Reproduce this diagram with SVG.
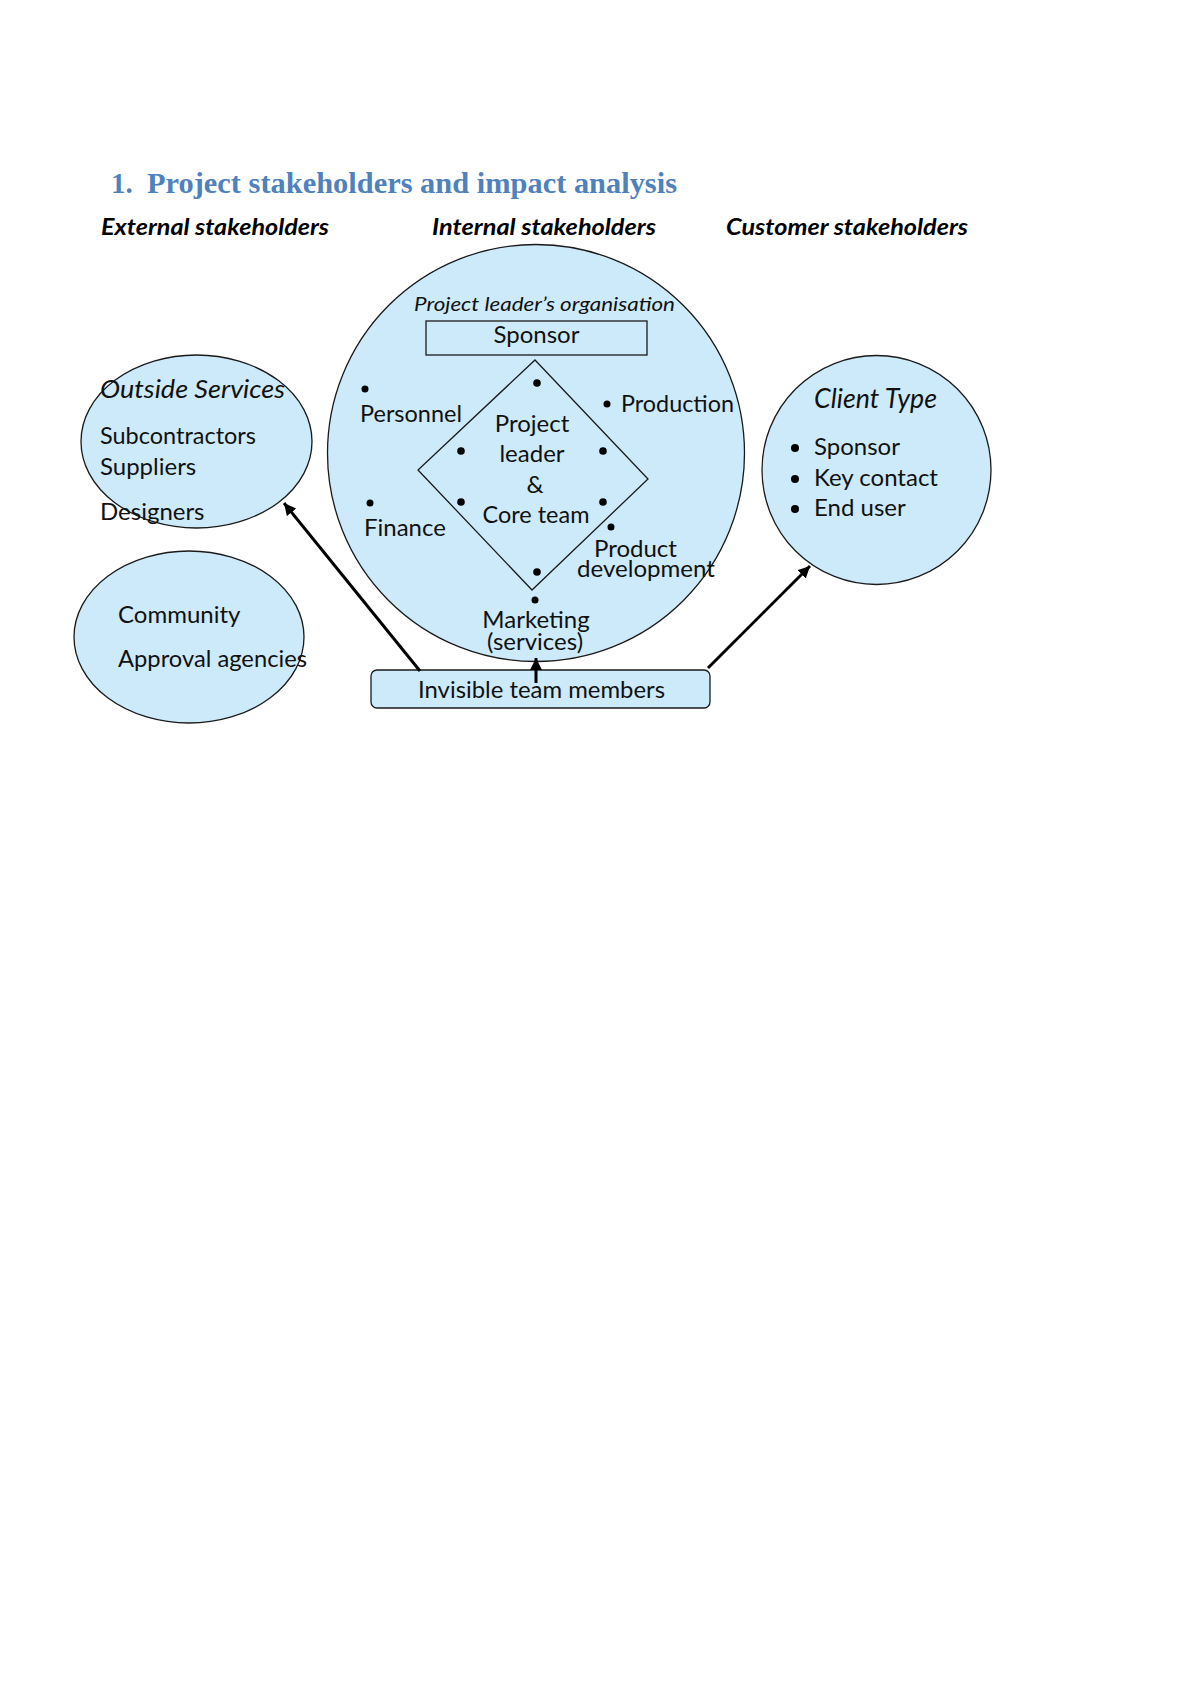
<svg xmlns="http://www.w3.org/2000/svg" width="1200" height="1697" viewBox="0 0 1200 1697">
<style>
.bg{fill:#ffffff}
.shape{fill:#CDEAFB;stroke:#1a1a1a;stroke-width:1.3}
.box{fill:none;stroke:#1a1a1a;stroke-width:1.3}
.t{font-family:Lato,"Liberation Sans",sans-serif;font-size:24px;fill:#111111}
.it{font-style:italic}
.hd{font-family:Lato,"Liberation Sans",sans-serif;font-size:23px;font-weight:bold;font-style:italic;fill:#000000}
.title{font-family:"Liberation Serif","DejaVu Serif",serif;font-size:29px;font-weight:bold;fill:#4F81BD}
.dot{fill:#000000}
.conn{stroke:#000000;stroke-width:3;fill:none}
</style>
<defs>
<marker id="arr" markerUnits="userSpaceOnUse" markerWidth="14" markerHeight="12" refX="12" refY="6" orient="auto">
<path d="M0,0 L12,6 L0,12 Z" fill="#000000"/>
</marker>
</defs>
<rect class="bg" x="0" y="0" width="1200" height="1697"/>

<g id="title">
<text class="title" x="111" y="193">1.</text>
<text class="title" x="147" y="193" textLength="530" lengthAdjust="spacingAndGlyphs">Project stakeholders and impact analysis</text>
</g>

<g id="headers">
<text class="hd" x="101" y="235" textLength="228" lengthAdjust="spacingAndGlyphs">External stakeholders</text>
<text class="hd" x="432" y="235" textLength="224" lengthAdjust="spacingAndGlyphs">Internal stakeholders</text>
<text class="hd" x="726" y="235" textLength="242" lengthAdjust="spacingAndGlyphs">Customer stakeholders</text>
</g>

<g id="outside-services">
<ellipse class="shape" cx="196.5" cy="441.5" rx="115.5" ry="86.5"/>
<text class="t it" x="100" y="398" style="font-size:26px" textLength="185" lengthAdjust="spacingAndGlyphs">Outside Services</text>
<text class="t" x="100" y="444" textLength="156" lengthAdjust="spacingAndGlyphs">Subcontractors</text>
<text class="t" x="100" y="475">Suppliers</text>
<text class="t" x="100" y="520">Designers</text>
</g>

<g id="community">
<ellipse class="shape" cx="189" cy="637" rx="115" ry="86"/>
<text class="t" x="118" y="623">Community</text>
<text class="t" x="118" y="667" textLength="189" lengthAdjust="spacingAndGlyphs">Approval agencies</text>
</g>

<g id="internal">
<circle class="shape" cx="536" cy="453" r="208.5"/>
<text class="t it" x="414" y="311" style="font-size:19px" textLength="261" lengthAdjust="spacingAndGlyphs">Project leader’s organisation</text>
<rect class="box" x="426" y="321" width="221" height="34"/>
<text class="t" x="536.5" y="343" text-anchor="middle">Sponsor</text>
<polygon class="box" points="535,360 648,479 532,590 418,470"/>
<circle class="dot" cx="365" cy="389" r="3.5"/>
<circle class="dot" cx="537" cy="383" r="3.8"/>
<circle class="dot" cx="607" cy="404" r="3.5"/>
<circle class="dot" cx="461" cy="451" r="3.8"/>
<circle class="dot" cx="603" cy="451" r="3.8"/>
<circle class="dot" cx="461" cy="502" r="3.8"/>
<circle class="dot" cx="603" cy="502" r="3.8"/>
<circle class="dot" cx="370" cy="503" r="3.5"/>
<circle class="dot" cx="611" cy="527" r="3.5"/>
<circle class="dot" cx="537" cy="572" r="3.8"/>
<circle class="dot" cx="535" cy="600" r="3.5"/>
<text class="t" x="360" y="422" textLength="102" lengthAdjust="spacingAndGlyphs">Personnel</text>
<text class="t" x="621" y="412" textLength="113" lengthAdjust="spacingAndGlyphs">Production</text>
<text class="t" x="532" y="432" text-anchor="middle">Project</text>
<text class="t" x="532" y="462" text-anchor="middle">leader</text>
<text class="t" x="535" y="493" text-anchor="middle">&amp;</text>
<text class="t" x="536" y="523" text-anchor="middle" textLength="107" lengthAdjust="spacingAndGlyphs">Core team</text>
<text class="t" x="364" y="536">Finance</text>
<text class="t" x="594" y="557">Product</text>
<text class="t" x="577" y="577" textLength="138" lengthAdjust="spacingAndGlyphs">development</text>
<text class="t" x="536" y="628" text-anchor="middle">Marketing</text>
<text class="t" x="535" y="650" text-anchor="middle">(services)</text>
</g>

<g id="client-type">
<circle class="shape" cx="876.5" cy="470" r="114.5"/>
<text class="t it" x="814" y="408" style="font-size:27px" textLength="123" lengthAdjust="spacingAndGlyphs">Client Type</text>
<circle class="dot" cx="795" cy="448" r="4"/>
<circle class="dot" cx="795" cy="479" r="4"/>
<circle class="dot" cx="795" cy="509" r="4"/>
<text class="t" x="814" y="455">Sponsor</text>
<text class="t" x="814" y="486">Key contact</text>
<text class="t" x="814" y="516">End user</text>
</g>

<g id="invisible-team">
<rect class="shape" x="371" y="670" width="339" height="38" rx="6"/>
<text class="t" x="418" y="698" textLength="247" lengthAdjust="spacingAndGlyphs">Invisible team members</text>
</g>

<g id="connectors">
<line class="conn" x1="420" y1="671" x2="284" y2="503" marker-end="url(#arr)"/>
<line class="conn" x1="708" y1="668" x2="810" y2="566" marker-end="url(#arr)"/>
<line class="conn" x1="536" y1="683" x2="536" y2="658" stroke-width="2.5" marker-end="url(#arr)"/>
</g>
</svg>
